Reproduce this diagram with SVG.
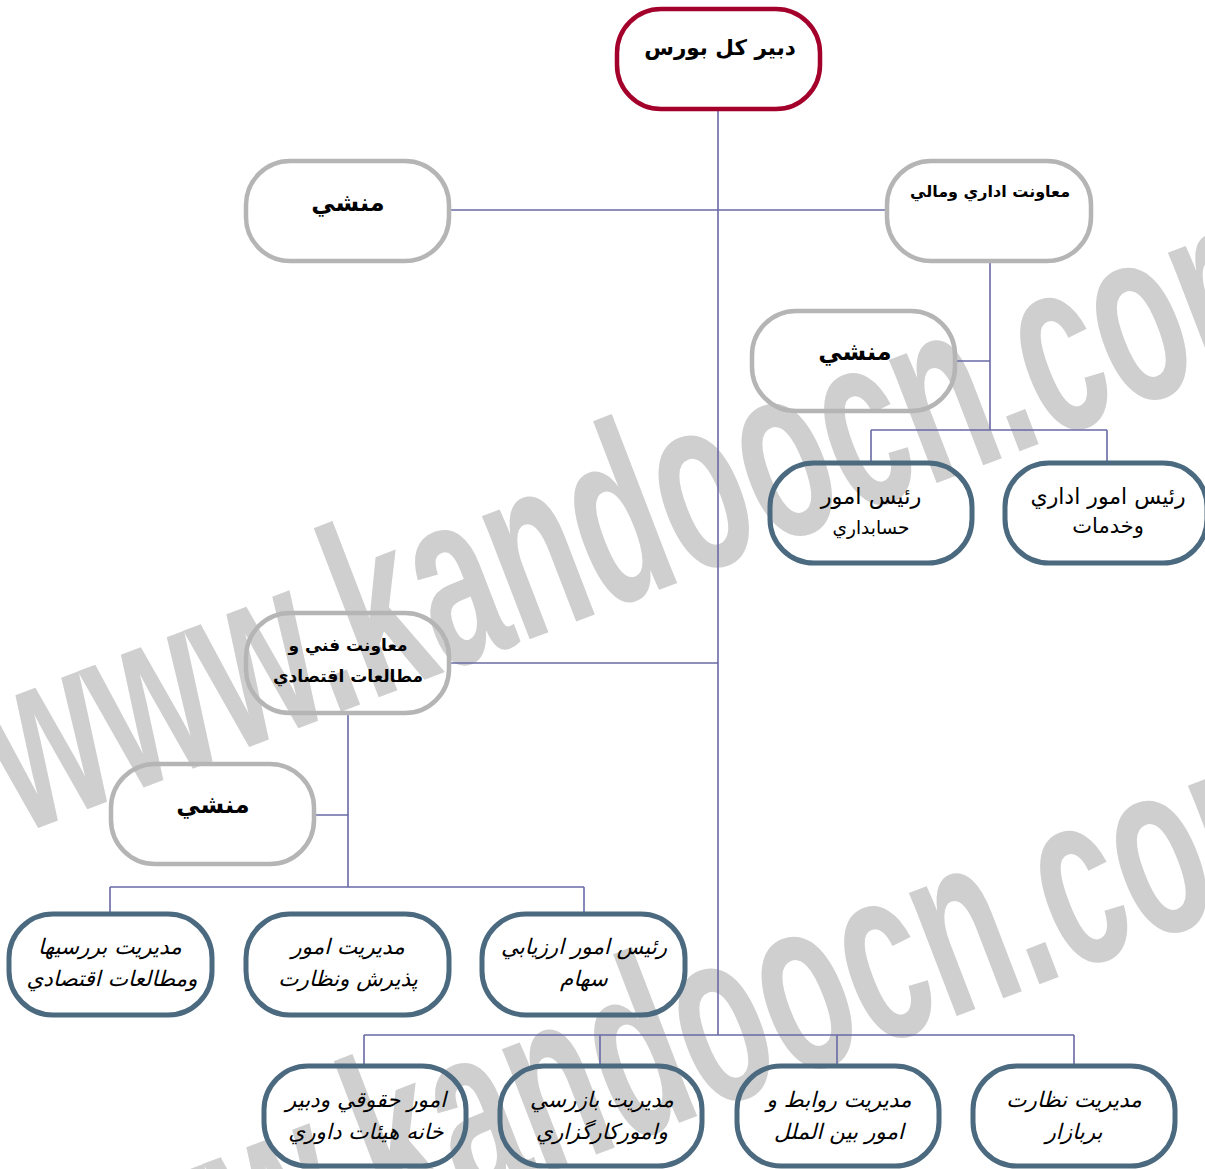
<svg xmlns="http://www.w3.org/2000/svg" width="1205" height="1169" viewBox="0 0 1205 1169">
<style>
.wm{font-family:"Liberation Sans Narrow","Liberation Sans",sans-serif;font-weight:bold;font-size:250px;fill:#cfcfcf}
.box{fill:none;stroke-width:4.5}
.red{stroke:#a3002b}
.gray{stroke:#b5b5b5}
.slate{stroke:#4b6a80;stroke-width:5}
.t{font-family:"DejaVu Sans",sans-serif;fill:#000;text-anchor:middle;direction:rtl}
.b{font-weight:bold}
.i{font-style:italic;font-size:21.5px}
.conn{stroke:#6a6aa6;stroke-width:1.6;fill:none}
</style>
<rect width="1205" height="1169" fill="#fff"/>
<g id="watermark">
<text class="wm" transform="translate(20,835) rotate(-21)" textLength="1400" lengthAdjust="spacingAndGlyphs">www.kandoocn.com</text>
<text class="wm" transform="translate(40,1368) rotate(-21)" textLength="1400" lengthAdjust="spacingAndGlyphs">www.kandoocn.com</text>
</g>
<g id="connectors">
<path class="conn" d="M718,110V1035"/>
<path class="conn" d="M450,210H886"/>
<path class="conn" d="M990,262V430M956,361H990M871,430H1107M871,430V462M1107,430V462"/>
<path class="conn" d="M450,663H718"/>
<path class="conn" d="M348,714V887M315,815H348M110,887H584M110,887V913M584,887V913"/>
<path class="conn" d="M364,1035H1074M364,1035V1065M600,1035V1065M837,1035V1065M1074,1035V1065"/>
</g>
<g id="n1"><rect class="box red" x="617" y="9" width="203" height="100" rx="44"/><text class="t b" x="720" y="55" font-size="21.5">دبير كل بورس</text></g>
<g id="n2"><rect class="box gray" x="246" y="161" width="203" height="100" rx="44"/><text class="t b" x="348" y="211" font-size="24">منشي</text></g>
<g id="n3"><rect class="box gray" x="887" y="161" width="204" height="100" rx="44"/><text class="t b" x="990" y="197" font-size="16">معاونت اداري ومالي</text></g>
<g id="n4"><rect class="box gray" x="752" y="311" width="203" height="100" rx="44"/><text class="t b" x="855" y="360" font-size="24">منشي</text></g>
<g id="n5"><rect class="box slate" x="770" y="463" width="202" height="100" rx="44"/><text class="t" x="871" y="504" font-size="22.5">رئيس امور</text><text class="t" x="871" y="534" font-size="18.5">حسابداري</text></g>
<g id="n6"><rect class="box slate" x="1005" y="463" width="202" height="100" rx="44"/><text class="t" x="1108" y="504" font-size="22">رئيس امور اداري</text><text class="t" x="1108" y="533" font-size="21">وخدمات</text></g>
<g id="n7"><rect class="box gray" x="246" y="613" width="203" height="100" rx="44"/><text class="t b" x="348" y="651" font-size="17">معاونت فني و</text><text class="t b" x="348" y="682" font-size="17">مطالعات اقتصادي</text></g>
<g id="n8"><rect class="box gray" x="111" y="764" width="203" height="100" rx="44"/><text class="t b" x="213" y="813" font-size="24">منشي</text></g>
<g id="n9"><rect class="box slate" x="9" y="914" width="203" height="101" rx="44"/><text class="t i" x="110" y="954">مديريت بررسيها</text><text class="t i" x="112" y="986">ومطالعات اقتصادي</text></g>
<g id="n10"><rect class="box slate" x="246" y="914" width="203" height="101" rx="44"/><text class="t i" x="348" y="954">مديريت امور</text><text class="t i" x="348" y="986">پذيرش ونظارت</text></g>
<g id="n11"><rect class="box slate" x="482" y="914" width="203" height="101" rx="44"/><text class="t i" x="584" y="954">رئيس امور ارزيابي</text><text class="t i" x="584" y="986">سهام</text></g>
<g id="n12"><rect class="box slate" x="264" y="1066" width="202" height="100" rx="44"/><text class="t i" x="366" y="1107">امور حقوقي ودبير</text><text class="t i" x="366" y="1139">خانه هيئات داوري</text></g>
<g id="n13"><rect class="box slate" x="500" y="1066" width="202" height="100" rx="44"/><text class="t i" x="602" y="1107">مديريت بازرسي</text><text class="t i" x="602" y="1139">واموركارگزاري</text></g>
<g id="n14"><rect class="box slate" x="737" y="1066" width="202" height="100" rx="44"/><text class="t i" x="839" y="1107">مديريت روابط و</text><text class="t i" x="839" y="1139">امور بين الملل</text></g>
<g id="n15"><rect class="box slate" x="973" y="1066" width="202" height="100" rx="44"/><text class="t i" x="1074" y="1107">مديريت نظارت</text><text class="t i" x="1074" y="1139">بربازار</text></g>
</svg>
